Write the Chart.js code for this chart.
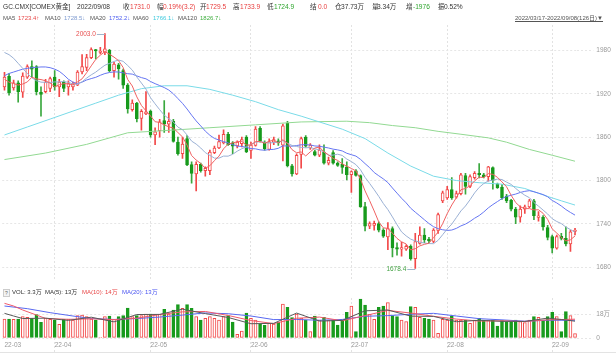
<!DOCTYPE html>
<html>
<head>
<meta charset="utf-8">
<script src="https://cdn.jsdelivr.net/npm/chart.js@4.4.0/dist/chart.umd.min.js"></script>
<style>
  html, body { margin: 0; padding: 0; background: #fff; }
  body { width: 616px; height: 359px; position: relative; overflow: hidden;
         font-family: "Liberation Sans", "Noto Sans CJK SC", sans-serif; }
  canvas { display: block; }
  .box { position: absolute; left: 0; width: 616px; }
  .t { position: absolute; white-space: nowrap; line-height: 1; z-index: 2; }
  .l1 { font-size: 6.6px; top: 3.7px; }
  .l2 { font-size: 6px; top: 15px; }
  .lv { font-size: 6px; top: 289px; }
  #range { position: absolute; left: 515px; top: 15px; font-size: 6px; color: #555;
           text-decoration: underline; white-space: nowrap; line-height: 1; }
  #qbox { position: absolute; left: 3px; top: 289px; width: 5px; height: 6px; border: 1px solid #ccc;
          background: #f3f3f3; font-size: 5px; line-height: 6px; text-align: center; color: #666; }
  #foot { position: absolute; left: 0; top: 352px; width: 616px; height: 1px; background: #e3e3e3; }
</style>
</head>
<body>
<div class="box" style="top:0;height:288px"><canvas id="main" width="616" height="288"></canvas></div>
<div class="box" style="top:288px;height:71px"><canvas id="vol" width="616" height="71"></canvas></div>
<div id="range">2022/03/17-2022/09/08(126日)▼</div>
<div id="qbox">?</div>
<div id="foot"></div>
<script>
// Daily candles, 2022/03/17 - 2022/09/08 (126 sessions)
const opens = [1929.5,1944,1928,1935,1922,1943,1957.5,1957.5,1922,1923,1927.5,1943,1929.5,1936,1929.5,1929.5,1932,1950,1956.5,1970,
  1981,1977,1977.5,1980,1952,1960,1952,1932,1898,1907,1886,1892,1896,1863,1869,1883,1878,1882,1853,1837,
  1858,1822,1809,1822.5,1813.5,1813.5,1838.5,1845,1852,1864,1852,1848,1851,1860,1841.5,1848.5,1872,1853,1843,1853,
  1855,1849,1879,1820.5,1809,1836,1860,1845,1840,1835,1839.5,1824,1838.5,1824,1822.5,1819,1808,1813.5,1807,1764,
  1737,1738,1740.5,1731.5,1722,1733.5,1707.5,1705,1705,1709,1692,1713,1724.5,1719,1716,1731,1772,1776,1787.5,1777,
  1782,1807,1792,1804,1810,1808,1805.5,1818,1795.5,1791,1778.5,1772.5,1760.5,1749.5,1760.5,1763.5,1772,1749,1749.5,1735,
  1722.5,1706.5,1723,1720,1712.5,1729.5];
const highs = [1949.5,1948,1939,1938,1949,1960,1965.5,1959,1929.5,1940,1943,1952,1940,1938,1938,1936,1952,1974,1974.5,1983.5,
  1981.5,1984,2003,1981.5,1963.5,1962,1954,1934,1911.5,1908,1898,1923,1897.5,1873,1884.5,1910.5,1893.5,1884.5,1860,1860,
  1862,1826,1826,1824,1819,1842,1847.5,1863,1870,1866.5,1854,1855,1860,1862,1853,1874.5,1874.5,1855,1857.5,1860,
  1857.5,1878,1882,1822.5,1837,1860,1862,1851,1842,1849.5,1849.5,1832.5,1841.5,1826,1830.5,1826,1813.5,1815,1808,1770,
  1743,1744,1743,1733.5,1742,1736,1714,1715,1711,1711,1727,1736,1733.5,1721.5,1733.5,1755,1785.5,1792,1804,1785.5,
  1810,1810,1808,1812.5,1823.5,1810,1819.5,1819,1796.5,1794.5,1781,1774,1763,1765,1766,1774,1774,1757,1751.5,1738,
  1724.5,1724.5,1727,1736,1731.5,1733.9];
const lows = [1925,1918,1925,1908.5,1915,1941,1943,1918.5,1889,1921,1923,1925,1916,1923,1918,1925,1931,1947.5,1952,1968.5,
  1968,1975,1974,1950,1943,1940,1927.5,1893,1896,1881,1869.5,1891,1860,1849.5,1860,1866.5,1866.5,1853,1835,1830.5,
  1820.5,1796.5,1785.5,1811.5,1806,1808,1837,1844,1850.5,1848.5,1837,1845,1846.5,1838.5,1830.5,1847.5,1853,1842,1842,1849.5,
  1848.5,1827,1819,1806,1808,1817,1846,1843,1834,1833,1822.5,1821.5,1822.5,1819.5,1810,1801,1783.5,1806,1763,1730.5,
  1733.5,1731.5,1729,1721.5,1704.5,1694.5,1697,1695.5,1703.5,1690,1678.4,1712,1714,1714,1714,1727,1769.5,1774,1774,1775.5,
  1780,1781,1790,1802,1803.5,1803.5,1799,1788,1789,1774,1769.5,1758,1740.5,1742.5,1754.5,1762.5,1746,1744,1731.5,1718,
  1700,1705,1718,1709.5,1702,1724.9];
const closes = [1943,1921.5,1935,1923,1944.5,1957.5,1954,1923,1919,1936,1941,1929.5,1936,1927.5,1934,1934,1950,1957.5,1970,1981,
  1979,1979,1982,1952,1961,1954.5,1932,1899,1907,1885.5,1895.5,1895,1863,1867.5,1881,1878,1882,1854,1837,1850.5,
  1821.5,1810,1822.5,1813.5,1817,1839.5,1845,1854,1864,1849.5,1847.5,1853,1856.5,1839.5,1849,1871,1854,1844,1853.5,1856.5,
  1852,1875.5,1820.5,1809,1835,1858,1847.5,1849,1835,1842,1824,1828,1824,1821,1818,1808,1812.5,1807,1764,1737,
  1740.5,1741,1731.5,1723,1733.5,1707,1705,1707.5,1709,1692,1715.5,1724.5,1718,1716.5,1731.5,1753,1783,1787.5,1776,1782,
  1808,1792,1805.5,1810,1808,1805.5,1819,1800,1790,1776,1772,1760.5,1749.5,1760.5,1763.5,1772,1751.5,1750.5,1736,1721.5,
  1706.5,1722.5,1720,1712.5,1729,1731];
// volume, in 万 lots
const volumes = [14.25,14.25,14,14.25,16,15.5,14.75,17.5,11.75,14.75,14,13.5,10.25,14,14.25,13.5,16.75,17.25,16,14.25,
  13.5,0.5,16,16.5,14,16,16.75,22.5,16,16.75,16.75,18,18,17.75,17.75,21.5,18,21,25,22.25,
  25,22.25,16,13.5,14.75,16,14.75,13.5,16,16.75,12,2.75,5.25,18.75,14.75,13.5,10.25,9.5,11,10.5,
  11.75,25.5,23,15.25,18,15,13.5,4.75,16.5,13.5,15.5,13.5,13.5,9.75,13.5,19.25,24,4.75,29.25,24.75,
  17.75,14,23,24,26.5,16.75,16,13.5,12.25,23.5,23,15.5,14.75,14.25,13.5,3.5,14,13.5,16.5,13.5,
  13.5,13.5,11,13.5,14.75,13.5,13.5,13.5,9,13,12.25,12.25,13.5,12.25,11.5,13.5,16,15.5,13.5,16,
  19.25,16,4.75,19.75,16.75,3.34];

// moving averages
const ma5 = [1940,1936,1934,1932,1933.4,1936.3,1942.8,1940.4,1939.6,1937.9,1934.6,1929.7,1932.3,1934,1933.6,1932.2,1936.3,1940.6,1949.1,1958.5,
  1967.5,1973.3,1978.2,1974.6,1970.6,1965.7,1956.3,1939.7,1930.7,1915.6,1903.8,1896.4,1889.2,1881.3,1880.4,1876.9,1874.3,1872.5,1866.4,1860.3,
  1849,1834.6,1828.3,1823.6,1816.9,1820.5,1827.5,1833.8,1843.9,1850.4,1852,1853.6,1854.1,1849.2,1849.1,1853.8,1854,1851.5,1854.3,1855.8,
  1852,1856.3,1851.6,1842.7,1838.4,1839.6,1834,1839.7,1844.9,1846.3,1839.5,1835.6,1830.6,1827.8,1823,1819.8,1816.7,1813.3,1801.9,1785.7,
  1772.2,1757.9,1742.8,1734.6,1733.9,1727.2,1720,1715.2,1712.4,1704.1,1705.8,1709.7,1711.8,1713.3,1721.2,1728.7,1740.4,1754.3,1766.2,1776.3,
  1787.3,1789.1,1792.7,1799.5,1804.7,1804.2,1809.6,1808.5,1804.5,1798.1,1791.4,1779.7,1769.6,1763.7,1761.2,1761.2,1759.4,1759.6,1754.7,1746.3,
  1733.2,1727.4,1721.3,1716.6,1718.1,1723.4];
const ma10 = [1977,1974,1969,1962,1955,1948,1942,1938,1936,1935.7,1935.5,1936.3,1936.4,1936.8,1935.8,1933.4,1933,1936.5,1941.6,1946.1,
  1949.9,1954.8,1959.4,1961.9,1964.6,1966.6,1964.8,1959,1952.7,1943.1,1934.8,1926.4,1914.5,1906,1898,1890.4,1885.4,1880.9,1873.9,1870.4,
  1863,1854.5,1850.4,1845,1838.6,1834.8,1831,1831,1833.8,1833.7,1836.3,1840.6,1844,1846.6,1849.8,1852.9,1853.8,1852.8,1851.8,1852.5,
  1852.9,1855.2,1851.6,1848.5,1847.1,1845.8,1845.2,1845.7,1843.8,1842.4,1839.6,1834.8,1835.2,1836.4,1834.7,1829.7,1826.2,1822,1814.9,1804.4,
  1796,1787.3,1778.1,1768.3,1759.8,1749.7,1739,1729,1723.5,1719,1716.5,1714.9,1713.5,1712.9,1712.7,1717.3,1725.1,1733.1,1739.8,1748.8,
  1758,1764.8,1773.5,1782.9,1790.5,1795.8,1799.4,1800.6,1802,1801.4,1797.8,1794.7,1789.1,1784.1,1779.7,1776.3,1769.6,1764.6,1759.2,1753.8,
  1747.2,1743.4,1740.5,1735.7,1732.2,1728.5];
const ma20 = [1945,1948,1950,1952,1954,1955,1956,1956.5,1957,1957,1956,1954,1951,1946,1940,1936,1934,1936,1939,1940.9,
  1942.7,1945.5,1947.9,1949.3,1950.2,1950,1948.9,1947.7,1947.1,1944.6,1942.3,1940.6,1936.9,1933.9,1931.3,1928.5,1925.1,1919.9,1913.3,1906.7,
  1898.9,1890.4,1882.4,1875.5,1868.3,1862.6,1858.2,1856,1853.8,1852,1849.6,1847.5,1847.2,1845.8,1844.2,1843.8,1842.4,1841.9,1842.8,1843.1,
  1844.6,1847.9,1847.8,1847.5,1848.4,1849.4,1849.5,1849.2,1847.8,1847.4,1846.2,1845,1843.4,1842.4,1840.9,1837.7,1835.7,1833.8,1829.3,1823.4,
  1817.8,1811.1,1806.6,1802.3,1797.2,1789.7,1782.6,1775.5,1769.2,1761.7,1756.3,1751.1,1745.8,1740.6,1736.2,1733.5,1732,1731,1731.6,1733.9,
  1737.3,1739.8,1743.5,1747.9,1751.6,1756.5,1762.2,1766.8,1770.9,1775.1,1777.9,1779.7,1781.3,1783.5,1785.1,1786,1784.5,1782.6,1780.6,1777.6,
  1772.5,1769,1764.8,1759.9,1755.9,1752.2];
// [session index, value] readings of the slow averages
const ma60Pts = [[0,1863],[5,1874],[10,1885],[15,1896],[20,1907],[25,1918],[30,1927],[35,1931],[40,1931],[45,1926],[50,1918],
  [55,1909],[60,1898],[65,1889],[69,1881],[74,1871],[79,1858],[84,1838],[89,1820],[94,1806],[99,1800],[104,1797],[109,1795],
  [114,1789],[119,1778],[122,1772],[125,1766.1]];
const ma120Pts = [[0,1829],[9,1838],[18,1850],[27,1866],[35,1869],[45,1873],[55,1877],[65,1881],[75,1882],[80,1880],[85,1876],
  [90,1873],[95,1868],[100,1864],[106,1859],[110,1853],[115,1843],[120,1835],[125,1826.7]];
const volMa5Pts = [[0,18.5],[2,16.5],[4,14.6],[9,14.9],[14,13.2],[19,15.6],[24,12.1],[29,17.6],[34,17.7],[39,21.6],[44,18.3],
  [49,15.4],[54,10.7],[59,11],[64,18.7],[69,12.7],[74,13.2],[79,20.4],[84,21],[89,16.4],[94,16.2],[99,12.2],[104,13.3],
  [109,12.5],[114,12.4],[119,14.9],[122,13.9],[125,12.6]];
const volMa10Pts = [[0,26],[2,24],[4,21],[9,14.7],[14,14],[19,14.4],[24,13.8],[29,14.9],[34,17.6],[39,19.6],[44,19.9],[49,16.9],
  [54,13.1],[59,10.8],[64,14.8],[69,15.7],[74,12.9],[79,16.8],[84,20.7],[89,18.7],[94,16.3],[99,14.2],[104,12.7],[109,12.9],
  [114,12.4],[119,13.6],[125,14.1]];
const volMa20Pts = [[0,24],[5,22],[10,19],[15,16.5],[19,14.6],[24,13.9],[29,14.6],[34,15.7],[39,17.2],[44,18.8],[49,18.2],[54,16.5],
  [59,13.8],[64,13.9],[69,13.3],[74,13.9],[79,16.3],[84,16.8],[89,17.8],[94,18.5],[99,16.5],[104,14.5],[109,13.6],[114,12.6],
  [119,13.3],[125,13.3]];

const priceTicks = [1680, 1740, 1800, 1860, 1920, 1980];
const volTicks = [0, 18];
const monthIdx = [0, 11, 32, 54, 76, 97, 120];
const monthLabels = ['22-03', '22-04', '22-05', '22-06', '22-07', '22-08', '22-09'];

// header text: [left, text, colour]
const headLine1 = [
  [3,'GC.CMX[COMEX黄金]','#333'], [77,'2022/09/08','#333'],
  [123,'收','#333'], [130,'1731.0','#e83e3e'], [157,'幅','#333'], [163,'0.19%(3.2)','#e83e3e'],
  [200,'开','#333'], [206,'1729.5','#e83e3e'], [233,'高','#333'], [240,'1733.9','#e83e3e'],
  [267,'低','#333'], [274,'1724.9','#2ea52e'], [310,'结','#333'], [318,'0.0','#e83e3e'],
  [335,'仓','#333'], [341,'37.73万','#333'], [372,'量','#333'], [377,'3.34万','#333'],
  [406,'增','#333'], [413,'-1976','#2ea52e'], [438,'振','#333'], [444,'0.52%','#333']
];
const headLine2 = [
  [3,'MA5','#555'], [18,'1723.4↑','#e84848'], [45,'MA10','#555'], [64,'1728.5↓','#7f9bd0'],
  [90,'MA20','#555'], [109,'1752.2↓','#5262f0'], [133,'MA60','#555'], [153,'1766.1↓','#3ec9dd'],
  [178,'MA120','#555'], [200,'1826.7↓','#3fae3f']
];
const volLegend = [
  [12,'VOL: 3.3万','#333'], [45,'MA(5): 13万','#333'], [82,'MA(10): 14万','#e84848'], [122,'MA(20): 13万','#4a55f0']
];

function putText(items, cls) {
  items.forEach(([x, txt, col]) => {
    const s = document.createElement('span');
    s.className = 't ' + cls;
    s.style.left = x + 'px';
    s.style.color = col;
    s.textContent = txt;
    document.body.appendChild(s);
  });
}
putText(headLine1, 'l1');
putText(headLine2, 'l2');
putText(volLegend, 'lv');

Chart.defaults.font.family = '"Liberation Sans", "Noto Sans CJK SC", sans-serif';

const n = closes.length;
const labels = closes.map((c, i) => i);
const upRed = '#f24848';
const downGreen = '#179a1c';
const isUp = closes.map((c, i) => c >= opens[i]);

function sparse(pts) {
  const arr = new Array(n).fill(null);
  pts.forEach(([i, v]) => { arr[i] = v; });
  return arr;
}
function maLine(label, data, color) {
  return { type: 'line', label, data, borderColor: color, borderWidth: 1, pointRadius: 0,
           spanGaps: true, tension: 0, fill: false, order: 0 };
}
function monthGrid(ctx) {
  return ctx.index > 0 && monthIdx.includes(ctx.index) ? '#e2e2e2' : 'rgba(0,0,0,0)';
}
const tickFont = { size: 6.5 };

// labels for highest high / lowest low
const extremaLabels = {
  id: 'extremaLabels',
  afterDatasetsDraw(chart) {
    const { ctx, scales: { x, y } } = chart;
    const hi = highs.indexOf(Math.max(...highs));
    const lo = lows.indexOf(Math.min(...lows));
    ctx.save();
    ctx.font = '6.5px "Liberation Sans", sans-serif';
    ctx.textBaseline = 'middle';
    ctx.textAlign = 'right';
    [[hi, highs[hi], '#e85050'], [lo, lows[lo], '#45a345']].forEach(([i, v, col]) => {
      const px = x.getPixelForValue(i);
      const py = Math.round(y.getPixelForValue(v)) + 0.5;
      ctx.strokeStyle = '#9fb6cc';
      ctx.lineWidth = 1;
      ctx.beginPath();
      ctx.moveTo(px - 8, py);
      ctx.lineTo(px, py);
      ctx.stroke();
      ctx.fillStyle = col;
      ctx.fillText(v.toFixed(1), px - 9, py);
    });
    ctx.restore();
  }
};

new Chart(document.getElementById('main'), {
  type: 'bar',
  data: {
    labels,
    datasets: [
      maLine('MA5', ma5, '#f06262'),
      maLine('MA10', ma10, '#9ab0d4'),
      maLine('MA20', ma20, '#6676f2'),
      maLine('MA60', sparse(ma60Pts), '#7adbe8'),
      maLine('MA120', sparse(ma120Pts), '#92d992'),
      {
        label: 'body', data: opens.map((o, i) => [o, closes[i]]),
        backgroundColor: isUp.map(u => u ? '#ffffff' : downGreen),
        borderColor: isUp.map(u => u ? upRed : downGreen),
        borderWidth: 1, borderSkipped: false, barThickness: 3, minBarLength: 1.5,
        grouped: false, order: 1
      },
      {
        label: 'wick', data: lows.map((l, i) => [l, highs[i]]),
        backgroundColor: isUp.map(u => u ? upRed : '#3aa83e'),
        barThickness: 1, grouped: false, order: 2
      }
    ]
  },
  options: {
    responsive: false, animation: false, events: [],
    layout: { padding: { left: 2.2, right: 0, top: 25, bottom: 0 } },
    plugins: { legend: { display: false }, tooltip: { enabled: false } },
    scales: {
      x: {
        offset: true,
        grid: { offset: false, color: monthGrid, drawTicks: false },
        border: { display: false, dash: [2, 2] },
        ticks: { display: false, autoSkip: false },
        afterFit: s => { s.height = 0; }
      },
      y: {
        position: 'right', min: 1661, max: 2015,
        afterBuildTicks: ax => { ax.ticks = priceTicks.map(v => ({ value: v })); },
        grid: { color: '#e6e6e6', tickLength: 16, tickBorderDash: [2, 2] },
        border: { display: false, dash: [2, 2] },
        ticks: { padding: 3, color: '#999', font: tickFont, callback: v => String(v) },
        afterFit: s => { s.width = 38.7; }
      }
    }
  },
  plugins: [extremaLabels]
});

new Chart(document.getElementById('vol'), {
  type: 'bar',
  data: {
    labels,
    datasets: [
      maLine('MA(5)', sparse(volMa5Pts), '#5a5a5a'),
      maLine('MA(10)', sparse(volMa10Pts), '#f05a6a'),
      maLine('MA(20)', sparse(volMa20Pts), '#5868f0'),
      {
        label: 'VOL', data: volumes,
        backgroundColor: isUp.map(u => u ? '#ffffff' : downGreen),
        borderColor: isUp.map(u => u ? upRed : downGreen),
        borderWidth: 1, borderSkipped: false, barThickness: 3, grouped: false, order: 1
      }
    ]
  },
  options: {
    responsive: false, animation: false, events: [],
    layout: { padding: { left: 2.2, right: 0, top: 10, bottom: 0 } },
    plugins: { legend: { display: false }, tooltip: { enabled: false } },
    scales: {
      x: {
        offset: true,
        grid: { offset: false, color: monthGrid, tickLength: 14, tickBorderDash: [2, 2] },
        border: { display: false, dash: [2, 2] },
        ticks: {
          autoSkip: false, maxRotation: 0, minRotation: 0, align: 'start', padding: -11,
          color: '#999', font: tickFont,
          callback: (v, i) => { const k = monthIdx.indexOf(i); return k >= 0 ? monthLabels[k] : ''; }
        },
        afterFit: s => { s.height = 21; }
      },
      y: {
        position: 'right', min: 0, max: 30,
        afterBuildTicks: ax => { ax.ticks = volTicks.map(v => ({ value: v })); },
        grid: { color: '#e6e6e6', tickLength: 16, tickBorderDash: [2, 2] },
        border: { display: false, dash: [2, 2] },
        ticks: { padding: 3, color: '#999', font: tickFont, callback: v => v === 0 ? '0' : v + '万' },
        afterFit: s => { s.width = 38.7; }
      }
    }
  }
});
</script>
</body>
</html>
